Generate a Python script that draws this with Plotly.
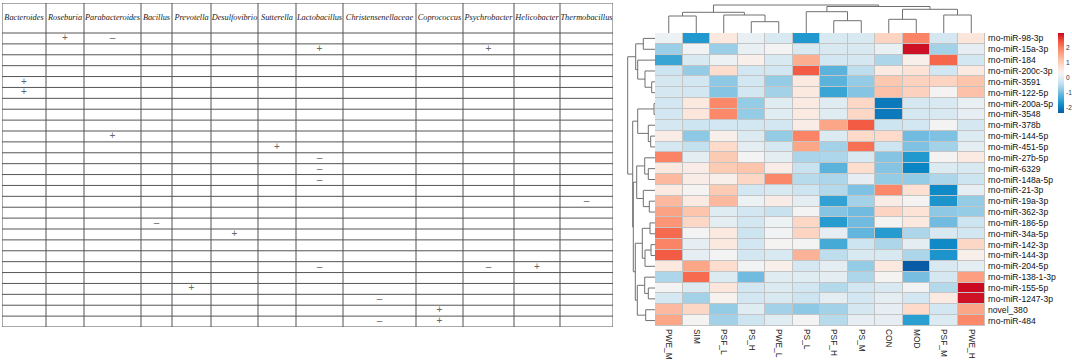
import plotly.graph_objects as go

# ---------------- data ----------------
GENERA = ["Bacteroides", "Roseburia", "Parabacteroides", "Bacillus", "Prevotella",
          "Desulfovibrio", "Sutterella", "Lactobacillus", "Christensenellaceae",
          "Coprococcus", "Psychrobacter", "Helicobacter", "Thermobacillus"]

MIRNAS = ["rno-miR-98-3p", "rno-miR-15a-3p", "rno-miR-184", "rno-miR-200c-3p",
          "rno-miR-3591", "rno-miR-122-5p", "rno-miR-200a-5p", "rno-miR-3548",
          "rno-miR-378b", "rno-miR-144-5p", "rno-miR-451-5p", "rno-miR-27b-5p",
          "rno-miR-6329", "rno-miR-148a-5p", "rno-miR-21-3p", "rno-miR-19a-3p",
          "rno-miR-362-3p", "rno-miR-186-5p", "rno-miR-34a-5p", "rno-miR-142-3p",
          "rno-miR-144-3p", "rno-miR-204-5p", "rno-miR-138-1-3p", "rno-miR-155-5p",
          "rno-miR-1247-3p", "novel_380", "rno-miR-484"]

SAMPLES = ["PWE_M", "SIM", "PSF_L", "PS_H", "PWE_L", "PS_L",
           "PSF_H", "PS_M", "CON", "MOD", "PSF_M", "PWE_H"]

# table signs: row index (miRNA), genus index, sign
SIGN_ROWS = [0, 0, 1, 1, 4, 5, 9, 10, 11, 12, 13, 15, 17, 18, 21, 21, 21, 23, 24, 25, 26, 26]
SIGN_COLS = [1, 2, 7, 10, 0, 0, 2, 6, 7, 7, 7, 12, 3, 5, 7, 10, 11, 4, 8, 9, 8, 9]
SIGN_TEXT = ["+", "–", "+", "+", "+", "+", "+", "+", "–", "–", "–", "–", "–", "+",
             "–", "–", "+", "+", "–", "+", "–", "+"]

# scaled expression per sample (rows in MIRNAS order)
PWE_M = [0.2, -0.7, -1.4, -0.25, -0.15, -0.15, -0.2, -0.2, -0.15, 0.5, -0.15, 2.0, 0.6, 1.35,
         0.55, 1.35, 1.65, 1.8, 2.25, 2.0, 2.4, 0.6, -0.55, 0.3, -0.15, 1.35, 1.6]
SIM = [-1.6, 0.25, -0.1, -0.75, -0.2, -0.2, 0.6, 0.65, -0.25, -0.8, -0.35, 0.05, 0.5, 0.5,
       0.35, 0.55, 1.2, 0.9, 0.3, 0.1, 0.1, 1.6, 2.25, -0.05, -0.65, 0.9, 0.35]
PSF_L = [0.6, -0.7, 0.2, 0.8, -0.8, -0.85, 1.95, 1.95, -0.2, 0.45, 0.85, 1.1, 1.1, 0.45,
         1.1, 1.35, 0.0, 0.05, 0.6, 0.6, 0.3, 0.8, -0.05, 0.65, 0.4, -0.75, -0.65]
PS_H = [0.15, 0.15, 0.45, -0.2, -0.2, -0.2, -0.75, -0.75, -0.2, -0.05, 0.05, 0.3, 1.2, 0.9,
        -0.2, 0.2, -0.2, -0.2, -0.25, -0.2, -0.2, 0.25, -1.0, -0.2, -0.2, 0.0, -0.25]
PWE_L = [-0.1, 0.3, -0.1, -0.2, -0.75, -0.65, 0.0, 0.0, -0.2, -0.75, -0.15, 0.05, 0.5, 1.95,
         -0.1, 0.5, -0.3, 0.2, 0.25, 0.35, -0.1, 0.45, 0.0, -0.05, -0.1, -0.65, 0.0]
PS_L = [-1.6, -0.1, 1.5, 2.4, 0.6, 0.6, 0.55, 0.55, 0.5, 2.0, 1.6, -0.6, -0.3, -0.45,
        -0.25, 0.05, 0.3, 0.9, 0.95, 0.3, 1.45, -0.15, 0.0, -0.2, -0.25, -0.8, 0.3]
PSF_H = [-0.1, -0.1, -0.2, -1.15, -1.15, -1.4, 0.0, 0.0, 1.6, -0.05, -0.65, -0.55, -1.15, -0.55,
         -0.5, -1.45, -0.85, -1.55, 0.1, -1.3, -0.4, 0.05, 0.05, -0.5, 0.05, -0.65, -0.45]
PS_M = [-0.1, -0.1, -0.15, -0.4, -0.75, -0.85, 0.9, 0.9, 2.4, 0.85, 2.2, -0.1, 0.8, 0.1,
        -0.9, -0.65, -1.0, -1.0, -1.1, -0.25, -0.1, -0.75, -0.55, -0.2, -0.2, -0.15, 0.1]
CON = [0.95, 0.15, -0.55, 0.55, 1.15, 1.25, -2.0, -2.0, -0.25, 0.85, -0.25, -0.85, -0.85, -0.75,
       1.95, 0.5, 0.95, 0.35, -1.55, -0.55, -0.1, 0.6, 0.35, -0.1, 0.05, 0.1, 0.1]
MOD = [2.0, 2.95, 0.45, 0.7, 1.0, 1.0, -0.15, -0.15, -0.2, -1.0, -0.9, -1.6, -1.85, -0.75,
       0.75, 0.35, 0.7, 0.6, -0.55, 0.05, -0.55, -2.33, -0.95, 0.25, -0.2, 0.85, -1.5]
PSF_M = [-0.15, -0.65, 2.3, -0.2, 0.95, 0.35, -0.1, -0.1, 0.3, -0.9, -0.65, 0.35, -0.05, -0.55,
         -1.8, -1.65, -0.8, -1.0, -0.1, -1.8, -1.65, -0.1, -0.15, -0.5, 0.55, -0.2, -0.05]
PWE_H = [0.65, 0.1, -0.2, 0.55, 1.2, 1.25, 0.15, 0.1, -0.15, -0.05, 0.05, 0.55, -0.1, -0.25,
         0.1, -0.75, -0.75, -0.25, -0.2, 0.9, 0.45, 0.05, 1.7, 3.0, 2.95, 1.6, 1.95]

SAMPLE_VALUES = [PWE_M, SIM, PSF_L, PS_H, PWE_L, PS_L, PSF_H, PS_M, CON, MOD, PSF_M, PWE_H]

# colour legend ticks
LEGEND_TICKS = [-2, -1, 0, 1, 2]

# dendrograms: [left, right, merge height]; leaves = index in display order
COL_TREE = [[[0, 1, 17], [2, [3, 4, 11.3], 18], 20.7],
            [[5, [6, 7, 12.3], 21.3], [[8, 9, 13.7], [10, 11, 18], 23.7], 26.5], 28]
ROW_TREE = [[[0, 1, 11.7], [2, [3, [4, 5, 3.3], 10], 17.3], 19.3],
            [[[6, 7, 1], [8, [9, 10, 4.3], 6.7], 17.3],
             [[[11, [12, 13, 6.7], 10.3], [14, [15, 16, 5.7], 11.7], 18.3],
              [[[17, 18, 5], [[19, 20, 4], 21, 10], 12.7],
               [[22, [23, 24, 6.7], 10.3], [25, 26, 9.3], 17.7], 19.7], 21.7], 22.3], 27.3]

# ---------------- layout constants ----------------
W, H = 1072, 360
TBL_COL_W = [44, 38, 57, 31, 39, 47, 38, 47, 73, 47, 51, 46, 53]
TBL_LEFT, TBL_TOP, TBL_HEAD_BOT, TBL_BOT = 2, 3, 33, 327
HM_L, HM_R, HM_T, HM_B = 655, 985, 33, 326
CB_L, CB_R, CB_T, CB_B = 1058, 1064, 33, 113
ZMIN, ZMAX = -2.33, 3.0
CB_STEPS = 160


def px_x(p):
    return p / W


def px_y(p):
    return 1 - p / H


def tree_segments(node, segs):
    if isinstance(node, int):
        return float(node), 0.0
    left, right, h = node
    pl, hl = tree_segments(left, segs)
    pr, hr = tree_segments(right, segs)
    segs.append([(pl, hl), (pl, h), (pr, h), (pr, hr)])
    return (pl + pr) / 2, h


fig = go.Figure()
shapes = []

# ---------------- table ----------------
n_rows = len(MIRNAS)
row_h = (TBL_BOT - TBL_HEAD_BOT) / n_rows
head_rows = (TBL_HEAD_BOT - TBL_TOP) / row_h
col_edges = [0]
for w in TBL_COL_W:
    col_edges.append(col_edges[-1] + w)
col_centers = [(col_edges[i] + col_edges[i + 1]) / 2 for i in range(len(GENERA))]

fig.add_trace(go.Scatter(
    x=col_centers, y=[-0.5 - head_rows / 2] * len(GENERA),
    text=["<i>" + g + "</i>" for g in GENERA], mode="text",
    textfont=dict(family="Liberation Serif", size=8.3, color="#1a1a1a"),
    xaxis="x3", yaxis="y3", hoverinfo="skip", showlegend=False))
fig.add_trace(go.Scatter(
    x=[col_centers[c] for c in SIGN_COLS], y=SIGN_ROWS, text=SIGN_TEXT, mode="text",
    textfont=dict(family="Liberation Sans", size=10, color="#666666"),
    xaxis="x3", yaxis="y3", hoverinfo="skip", showlegend=False))

line_style = dict(color="#555555", width=1)
for e in col_edges:
    shapes.append(dict(type="line", xref="x3", yref="y3", x0=e, x1=e,
                       y0=-0.5 - head_rows, y1=n_rows - 0.5, line=line_style))
for yb in [-0.5 - head_rows] + [i - 0.5 for i in range(n_rows + 1)]:
    shapes.append(dict(type="line", xref="x3", yref="y3", x0=0, x1=col_edges[-1],
                       y0=yb, y1=yb, line=line_style))

# ---------------- heatmap ----------------
z = [[SAMPLE_VALUES[c][r] for c in range(len(SAMPLES))] for r in range(n_rows)]
colorscale_pts = [(-2.33, "#0a5ba6"), (-1.85, "#0b86c4"), (-1.5, "#2a9fd2"), (-1.0, "#70bbdf"),
                  (-0.6, "#a9d4e9"), (-0.2, "#d2e7f1"), (0.33, "#f5f4f4"), (0.7, "#fde3d6"),
                  (1.2, "#fcc5ac"), (1.7, "#fc9e7f"), (2.1, "#f97b5c"), (2.45, "#f25640"),
                  (3.0, "#cb0a22")]
colorscale = [[(v - ZMIN) / (ZMAX - ZMIN), c] for v, c in colorscale_pts]

shapes.append(dict(type="rect", xref="x", yref="y", x0=-0.5, x1=len(SAMPLES) - 0.5,
                   y0=-0.5, y1=n_rows - 0.5, layer="below",
                   fillcolor="#c4c4c4", line=dict(color="#c4c4c4", width=1)))
fig.add_trace(go.Heatmap(
    z=z, x=list(range(len(SAMPLES))), y=list(range(n_rows)),
    zmin=ZMIN, zmax=ZMAX, colorscale=colorscale, xgap=1, ygap=1,
    xaxis="x", yaxis="y", hoverinfo="skip", showscale=False))

# colour legend drawn as a one-column heatmap on its own axis
cb_vals = [ZMIN + (ZMAX - ZMIN) * (i + 0.5) / CB_STEPS for i in range(CB_STEPS)]
fig.add_trace(go.Heatmap(
    z=[[v] for v in cb_vals], x=[0], y=cb_vals, zmin=ZMIN, zmax=ZMAX,
    colorscale=colorscale, xaxis="x6", yaxis="y6", hoverinfo="skip", showscale=False))

# ---------------- dendrograms ----------------
segs = []
tree_segments(COL_TREE, segs)
xs, ys = [], []
for s in segs:
    for (a, b) in s:
        xs.append(a)
        ys.append(b)
    xs.append(None)
    ys.append(None)
fig.add_trace(go.Scatter(x=xs, y=ys, mode="lines", line=dict(color="#707070", width=1),
                         xaxis="x4", yaxis="y4", hoverinfo="skip", showlegend=False))

segs = []
tree_segments(ROW_TREE, segs)
xs, ys = [], []
for s in segs:
    for (a, b) in s:
        xs.append(b)
        ys.append(a)
    xs.append(None)
    ys.append(None)
fig.add_trace(go.Scatter(x=xs, y=ys, mode="lines", line=dict(color="#707070", width=1),
                         xaxis="x5", yaxis="y5", hoverinfo="skip", showlegend=False))

hidden = dict(showgrid=False, zeroline=False, showticklabels=False, ticks="", showline=False)

fig.update_layout(
    width=W, height=H, margin=dict(l=0, r=0, t=0, b=0, autoexpand=False),
    paper_bgcolor="white", plot_bgcolor="white", showlegend=False,
    shapes=shapes,
    xaxis=dict(domain=[px_x(HM_L), px_x(HM_R)], range=[-0.5, len(SAMPLES) - 0.5],
               tickvals=list(range(len(SAMPLES))), ticktext=SAMPLES, tickangle=90,
               ticks="", showgrid=False, zeroline=False, ticklabelstandoff=2,
               anchor="y",
               tickfont=dict(family="Liberation Sans", size=8.4, color="#222")),
    yaxis=dict(domain=[px_y(HM_B), px_y(HM_T)], range=[n_rows - 0.5, -0.5], side="right",
               tickvals=list(range(n_rows)), ticktext=MIRNAS, ticks="", showgrid=False,
               zeroline=False, ticklabelstandoff=2, anchor="x",
               tickfont=dict(family="Liberation Sans", size=8.6, color="#111")),
    xaxis3=dict(domain=[px_x(TBL_LEFT), px_x(TBL_LEFT + col_edges[-1])],
                range=[0, col_edges[-1]], anchor="y3", **hidden),
    yaxis3=dict(domain=[px_y(TBL_BOT), px_y(TBL_TOP)],
                range=[n_rows - 0.5, -0.5 - head_rows], anchor="x3", **hidden),
    xaxis4=dict(domain=[px_x(HM_L), px_x(HM_R)], range=[-0.5, len(SAMPLES) - 0.5],
                anchor="y4", **hidden),
    yaxis4=dict(domain=[px_y(HM_T), px_y(3)], range=[0, 30], anchor="x4", **hidden),
    xaxis5=dict(domain=[px_x(620), px_x(HM_L)], range=[35, 0], anchor="y5", **hidden),
    yaxis5=dict(domain=[px_y(HM_B), px_y(HM_T)], range=[n_rows - 0.5, -0.5],
                anchor="x5", **hidden),
    xaxis6=dict(domain=[px_x(CB_L), px_x(CB_R)], range=[-0.5, 0.5], anchor="y6", **hidden),
    yaxis6=dict(domain=[px_y(CB_B), px_y(CB_T)], range=[ZMIN, ZMAX], anchor="x6",
                side="right", tickvals=LEGEND_TICKS, ticktext=[str(t) for t in LEGEND_TICKS],
                ticks="", showgrid=False, zeroline=False, showline=False,
                ticklabelstandoff=1,
                tickfont=dict(family="Liberation Sans", size=6.5, color="#333")),
)

fig.write_html("out.html", config={"displayModeBar": False, "staticPlot": True},
               post_script="document.body.style.margin='0';"
                           "document.body.style.overflow='hidden';")
